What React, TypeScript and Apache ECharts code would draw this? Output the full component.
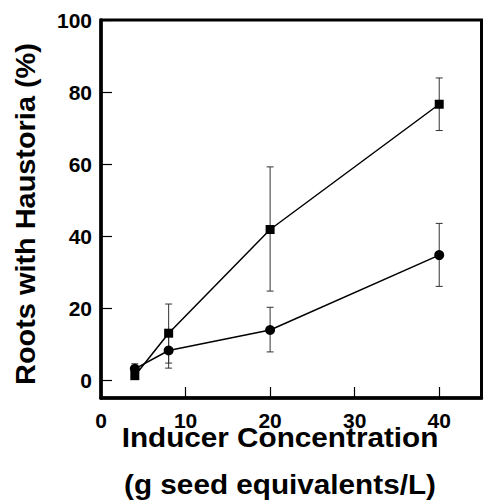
import React, { useEffect, useRef } from "react";
import * as echarts from "echarts";

const concentrations = [4, 8, 20, 40];
const squareMeans = [1.2, 13.0, 41.8, 76.6];
const squareLow = [0.7, 4.7, 24.7, 69.3];
const squareHigh = [1.7, 21.1, 59.2, 83.9];
const circleMeans = [3.1, 8.2, 13.9, 34.7];
const circleLow = [1.7, 3.3, 7.8, 26.0];
const circleHigh = [4.5, 13.1, 20.2, 43.5];
const xTicks = [0, 10, 20, 30, 40];
const yTicks = [0, 20, 40, 60, 80, 100];

const FONT = "Liberation Sans, Arial, Helvetica, sans-serif";

function errorData(low: number[], high: number[]) {
  return concentrations.map((x, i) => [x, low[i], high[i]]);
}

export default function App() {
  const ref = useRef<HTMLDivElement>(null);
  useEffect(() => {
    if (!ref.current) return;
    const chart = echarts.init(ref.current, undefined, { renderer: "svg" });
    const renderErr = (params: any, api: any) => {
      const x = api.value(0);
      const lo = api.coord([x, api.value(1)]);
      const hi = api.coord([x, api.value(2)]);
      const w = 3.5;
      const style = { stroke: "#333", lineWidth: 1 };
      return {
        type: "group",
        children: [
          { type: "line", shape: { x1: lo[0], y1: lo[1], x2: hi[0], y2: hi[1] }, style },
          { type: "line", shape: { x1: lo[0] - w, y1: lo[1], x2: lo[0] + w, y2: lo[1] }, style },
          { type: "line", shape: { x1: hi[0] - w, y1: hi[1], x2: hi[0] + w, y2: hi[1] }, style },
        ],
      };
    };
    const labelStyle = {
      color: "#000",
      fontSize: 21,
      fontWeight: "bold" as const,
      fontFamily: FONT,
      lineHeight: 14,
    };
    chart.setOption({
      animation: false,
      grid: {
        left: 101,
        right: 2.5,
        top: 20,
        bottom: 104,
        show: true,
        borderColor: "#000",
        borderWidth: 3,
        backgroundColor: "transparent",
      },
      xAxis: {
        type: "value",
        min: 0,
        max: 45,
        splitLine: { show: false },
        axisLine: { show: true, onZero: false, lineStyle: { color: "#000", width: 3.5 } },
        axisTick: { show: true, inside: true, length: 11, customValues: xTicks, lineStyle: { color: "#000", width: 1.2 } },
        axisLabel: { ...labelStyle, customValues: xTicks, margin: 15 },
      },
      yAxis: {
        type: "value",
        min: -5,
        max: 100,
        splitLine: { show: false },
        axisLine: { show: true, onZero: false, lineStyle: { color: "#000", width: 3.5 } },
        axisTick: { show: true, inside: true, length: 11, customValues: yTicks, lineStyle: { color: "#000", width: 1.2 } },
        axisLabel: { ...labelStyle, customValues: yTicks, margin: 9 },
      },
      graphic: [
        {
          type: "text",
          x: 280,
          y: 437,
          scaleX: 1.1,
          style: {
            text: "Inducer Concentration",
            fill: "#000",
            font: `bold 27px ${FONT}`,
            lineHeight: 20,
            align: "center",
            verticalAlign: "middle",
          },
        },
        {
          type: "text",
          x: 280,
          y: 484,
          scaleX: 1.1,
          style: {
            text: "(g seed equivalents/L)",
            fill: "#000",
            font: `bold 27px ${FONT}`,
            lineHeight: 20,
            align: "center",
            verticalAlign: "middle",
          },
        },
        {
          type: "text",
          x: 26,
          y: 214,
          rotation: Math.PI / 2,
          scaleX: 1.07,
          style: {
            text: "Roots with Haustoria (%)",
            fill: "#000",
            font: `bold 27px ${FONT}`,
            align: "center",
            verticalAlign: "middle",
          },
        },
      ],
      series: [
        {
          type: "custom",
          name: "squareErr",
          renderItem: renderErr,
          data: errorData(squareLow, squareHigh),
          z: 1,
        },
        {
          type: "custom",
          name: "circleErr",
          renderItem: renderErr,
          data: errorData(circleLow, circleHigh),
          z: 1,
        },
        {
          type: "line",
          name: "Squares",
          data: concentrations.map((x, i) => [x, squareMeans[i]]),
          symbol: "rect",
          symbolSize: 9,
          lineStyle: { color: "#000", width: 1.5 },
          itemStyle: { color: "#000" },
          z: 3,
        },
        {
          type: "line",
          name: "Circles",
          data: concentrations.map((x, i) => [x, circleMeans[i]]),
          symbol: "circle",
          symbolSize: 10,
          lineStyle: { color: "#000", width: 1.5 },
          itemStyle: { color: "#000" },
          z: 3,
        },
      ],
    });
    return () => chart.dispose();
  }, []);
  return <div ref={ref} style={{ width: 484, height: 502, position: "absolute", left: 0, top: 0 }} />;
}
